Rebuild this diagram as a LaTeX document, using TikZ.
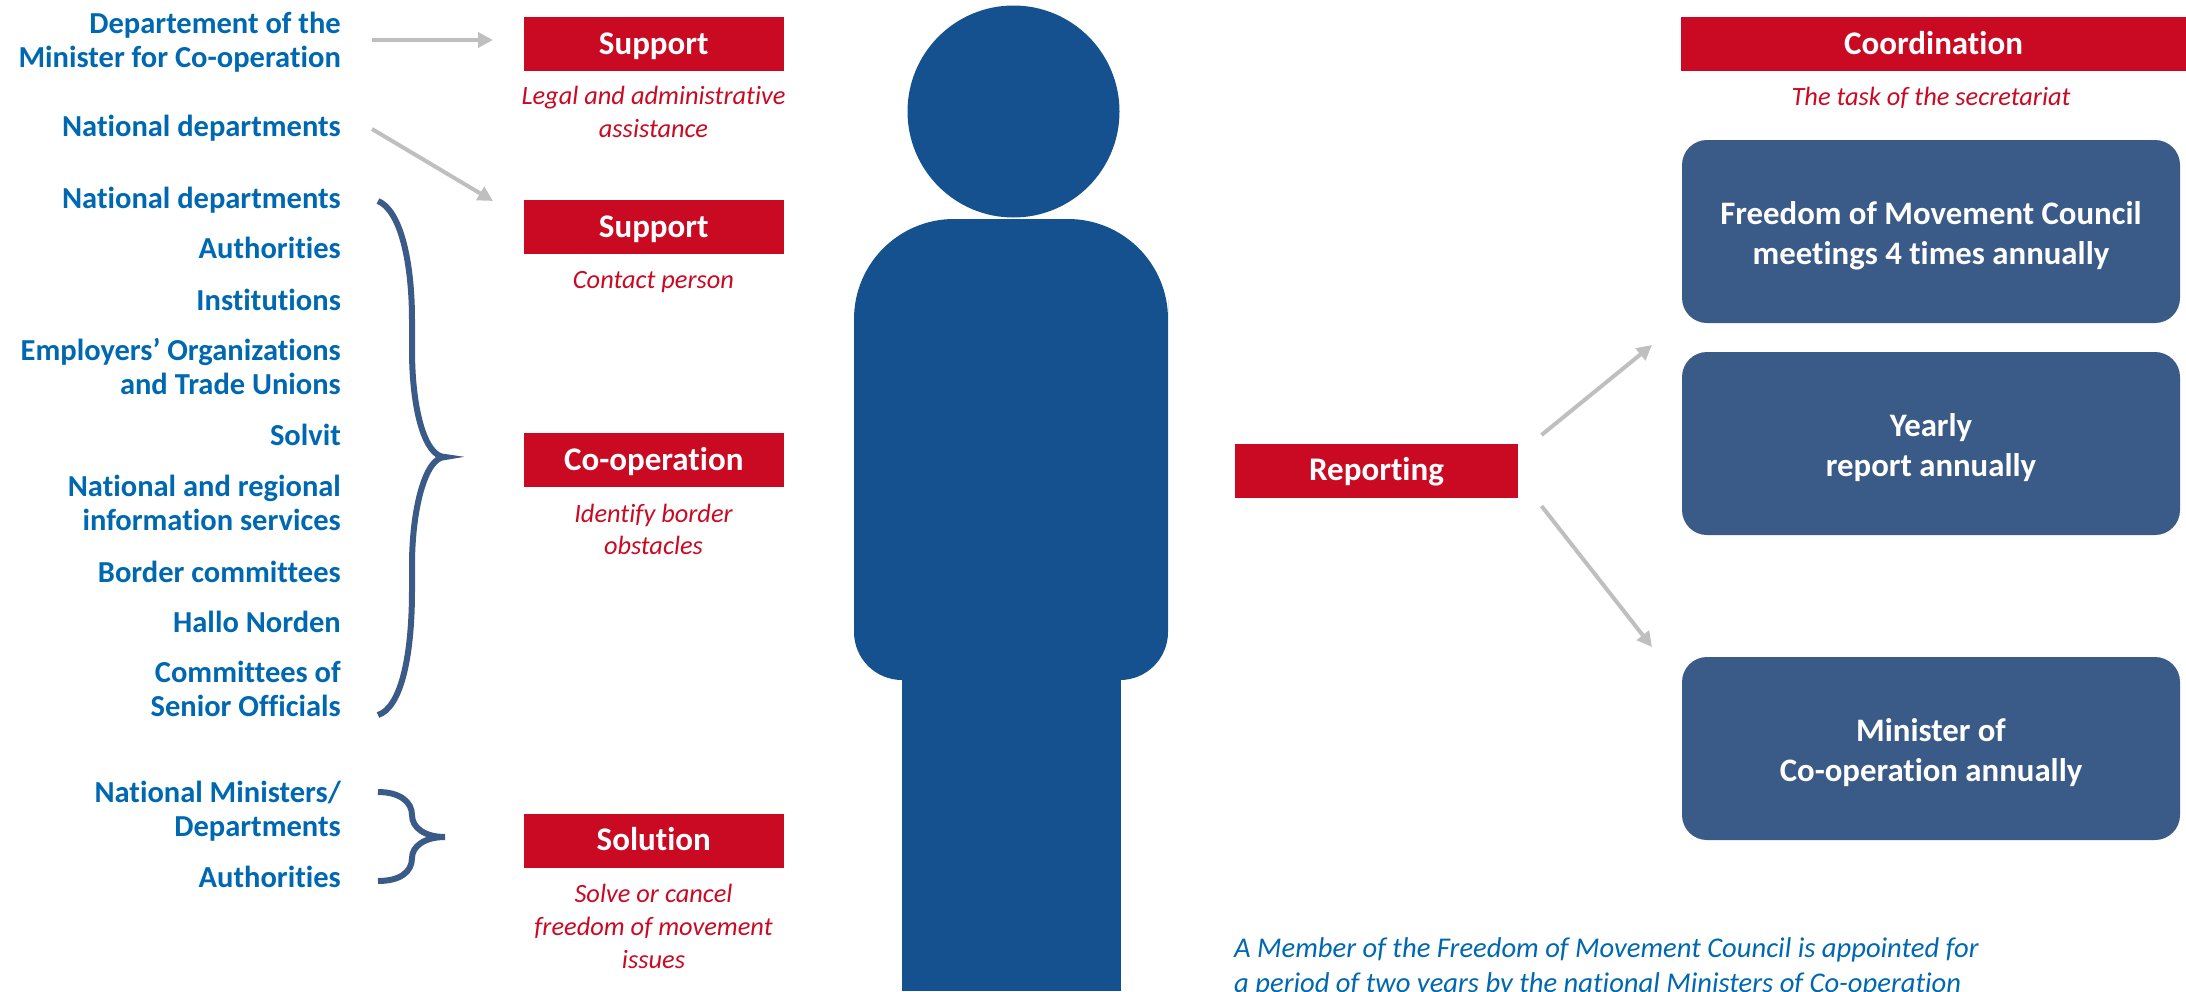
\documentclass[tikz,border=0pt]{standalone}
\usepackage{fontspec}
\setmainfont[Ligatures=NoCommon]{Carlito}
\usetikzlibrary{arrows.meta}
\definecolor{redc}{HTML}{C90A22}
\definecolor{bluet}{HTML}{0068B0}
\definecolor{bodyc}{HTML}{15518F}
\definecolor{boxc}{HTML}{3A5A88}
\definecolor{greyc}{HTML}{BFBFBF}
\tikzset{
 lab/.style={anchor=east,inner sep=0pt,yshift=-4pt,align=right,text=bluet,font=\fontsize{30.5}{34}\selectfont\bfseries},
 redbox/.style={fill=redc,text=white,inner sep=0pt,text height=26pt,text depth=6pt,font=\fontsize{33}{36}\selectfont\bfseries},
 redsub/.style={inner sep=0pt,yshift=-3pt,align=center,text=redc,font=\fontsize{26.4}{32.8}\selectfont\itshape},
 bluebox/.style={fill=boxc,text=white,inner sep=0pt,align=center,rounded corners=25pt,font=\fontsize{32.8}{40}\selectfont\bfseries},
 garrow/.style={draw=greyc,line width=4pt,-{Triangle[length=15pt,width=15pt]}},
 brace/.style={draw=boxc,line width=6pt,fill=none},
 figc/.style={fill=bodyc,draw=none},
 note/.style={anchor=west,inner sep=0pt,align=left,text=bluet,font=\fontsize{28.6}{35}\selectfont\itshape}
}
\newcommand{\rbox}[6]{\node[redbox,minimum width=#3 pt-#1 pt,minimum height=#4 pt-#2 pt] (#5) at ({(#1+#3)/2},{(#2+#4)/2}) {#6};}
\newcommand{\bbox}[4]{\node[bluebox,minimum width=498pt,minimum height=#2 pt-#1 pt] (#3) at (1931,{(#1+#2)/2}) {\rule{0pt}{32pt}#4};}
\begin{document}
\begin{tikzpicture}[x=1pt,y=-1pt]
\useasboundingbox (0,0) rectangle (2186,991);
% person
\fill[figc] (1013.5,111.5) circle (106pt);
\fill[figc] (854,400) [rounded corners=100pt] -- (854,219) -- (1168,219) -- (1168,400) [rounded corners=48pt] -- (1168,680) -- (854,680) -- cycle;
\fill[figc] (902,660) rectangle (1121,991);
% left labels
\node[lab] (l1) at (341,40) {\strut Departement of the\\\strut Minister for Co-operation};
\node[lab] (l2) at (341,126) {\strut National departments};
\node[lab] (l3) at (341,198) {\strut National departments};
\node[lab] (l4) at (341,248) {\strut Authorities};
\node[lab] (l5) at (341,300) {\strut Institutions};
\node[lab] (l6) at (341,367) {\strut Employers’ Organizations\\\strut and Trade Unions};
\node[lab] (l7) at (341,435) {\strut Solvit};
\node[lab] (l8) at (341,503) {\strut National and regional\\\strut information services};
\node[lab] (l9) at (341,572) {\strut Border committees};
\node[lab] (l10) at (341,622) {\strut Hallo Norden};
\node[lab] (l11) at (341,689) {\strut Committees of\\\strut Senior Officials};
\node[lab] (l12) at (341,809) {\strut National Ministers/\\\strut Departments};
\node[lab] (l13) at (341,877) {\strut Authorities};
% red boxes
\rbox{524}{17}{783.5}{71}{s1}{Support}
\rbox{524}{200}{783.5}{254}{s2}{Support}
\rbox{524}{433}{783.5}{487}{s3}{Co-operation}
\rbox{524}{813.5}{783.5}{867.5}{s4}{Solution}
\rbox{1681}{17}{2186}{71}{s5}{Coordination}
\rbox{1235}{443.5}{1518}{497.5}{s6}{Reporting}
% red subs
\node[redsub] (t1) at (653.5,111.5) {\strut Legal and administrative\\\strut assistance};
\node[redsub] (t2) at (653.5,279) {\strut Contact person};
\node[redsub] (t3) at (653.5,529) {\strut Identify border\\\strut obstacles};
\node[redsub] (t4) at (653.5,926) {\strut Solve or cancel\\\strut freedom of movement\\\strut issues};
\node[redsub] (t5) at (1931,96) {\strut The task of the secretariat};
% blue boxes
\bbox{140}{323}{b1}{Freedom of Movement Council\\meetings 4 times annually}
\bbox{352}{535}{b2}{Yearly\\report annually}
\bbox{657}{840}{b3}{Minister of\\Co-operation annually}
% note
\node[note] (n1) at (1234,968) {\strut A Member of the Freedom of Movement Council is appointed for\\\strut a period of two years by the national Ministers of Co-operation};
% arrow ends
\coordinate (a1s) at (372,40); \coordinate (a1e) at (493,40);
\coordinate (a2s) at (372,129); \coordinate (a2e) at (493,201);
\coordinate (a3s) at (1541.5,435); \coordinate (a3e) at (1652,345);
\coordinate (a4s) at (1541.5,506); \coordinate (a4e) at (1652,647);
\draw[garrow] (a1s) -- (a1e);
\draw[garrow] (a2s) -- (a2e);
\draw[garrow] (a3s) -- (a3e);
\draw[garrow] (a4s) -- (a4e);
% braces
\draw[brace] (378,201) .. controls (400,210) and (412,260) .. (412,320) -- (412,350) .. controls (412,410) and (425,457) .. (445,457) .. controls (425,457) and (412,510) .. (412,565) -- (412,590) .. controls (412,660) and (400,708) .. (378,715);
\draw[brace] (378,792) .. controls (400,792) and (412,802) .. (412,815) .. controls (412,828) and (425,837) .. (445,837) .. controls (425,837) and (412,846) .. (412,858) .. controls (412,872) and (400,881) .. (378,881);
\end{tikzpicture}
\end{document}
